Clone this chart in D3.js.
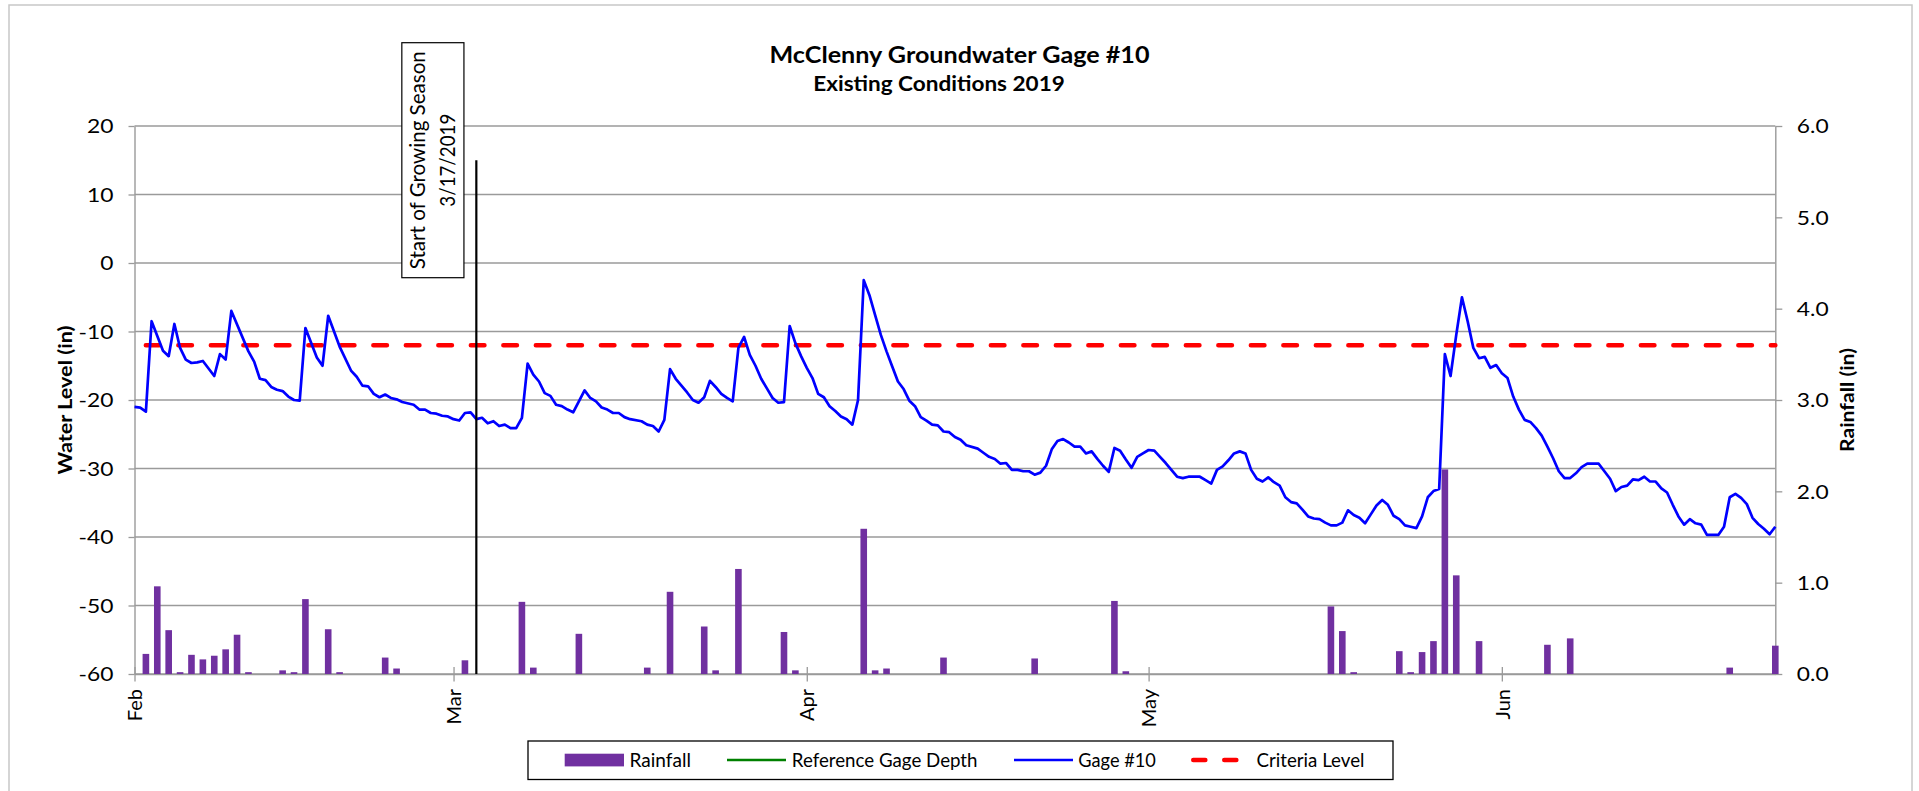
<!DOCTYPE html>
<html>
<head>
<meta charset="utf-8">
<title>McClenny Groundwater Gage #10</title>
<script src="https://cdn.jsdelivr.net/npm/d3@7"></script>
<style>
  html, body { margin: 0; padding: 0; background: #fff; }
  svg { display: block; }
</style>
</head>
<body>
<svg id="chart" width="1919" height="791"></svg>
<script>
// ---- data -------------------------------------------------------------
const titleLines = ["McClenny Groundwater Gage #10", "Existing Conditions 2019"];
const legendLabels = ["Rainfall", "Reference Gage Depth", "Gage #10", "Criteria Level"];

const xDomain = ["2019-02-01", "2019-06-25"];
const monthTicks = ["2019-02-01", "2019-03-01", "2019-04-01", "2019-05-01", "2019-06-01"];
const levelTicks = [-60, -50, -40, -30, -20, -10, 0, 10, 20];
const rainTicks = [0, 1, 2, 3, 4, 5, 6];

// daily rainfall (in)
const rainDates = ["02-02","02-03","02-04","02-05","02-06","02-07","02-08","02-09","02-10","02-11",
  "02-14","02-15","02-16","02-18","02-19","02-23","02-24","03-02","03-07","03-08","03-12","03-18",
  "03-20","03-23","03-24","03-26","03-30","03-31","04-06","04-07","04-08","04-13","04-21","04-28",
  "04-29","05-17","05-18","05-19","05-23","05-24","05-25","05-26","05-27","05-28","05-30","06-05",
  "06-07","06-21","06-25"];
const rainInches = [0.22,0.96,0.48,0.02,0.21,0.16,0.20,0.27,0.43,0.02,
  0.04,0.02,0.82,0.49,0.02,0.18,0.06,0.15,0.79,0.07,0.44,0.07,
  0.90,0.52,0.04,1.15,0.46,0.04,1.59,0.04,0.06,0.18,0.17,0.80,
  0.03,0.74,0.47,0.02,0.25,0.02,0.24,0.36,2.24,1.08,0.36,0.32,
  0.39,0.07,0.31];

// Gage #10 water level (in), "MM-DD HH" reading times
const gage10 = [
 ["02-01 00",-21.0],["02-01 12",-21.1],["02-02 00",-21.7],["02-02 12",-8.5],["02-03 12",-12.8],["02-04 00",-13.6],["02-04 12",-8.9],["02-05 00",-12.4],
 ["02-05 12",-14.1],["02-06 00",-14.6],["02-06 12",-14.5],["02-07 00",-14.3],["02-08 00",-16.5],["02-08 12",-13.3],["02-09 00",-14.1],["02-09 12",-7.0],
 ["02-11 00",-12.9],["02-11 12",-14.4],["02-12 00",-16.9],["02-12 12",-17.1],["02-13 00",-18.1],["02-13 12",-18.5],["02-14 00",-18.7],["02-14 12",-19.5],
 ["02-15 00",-20.0],["02-15 12",-20.1],["02-16 00",-9.5],["02-17 00",-13.8],["02-17 12",-15.0],["02-18 00",-7.7],["02-19 00",-12.2],["02-20 00",-15.7],
 ["02-20 12",-16.6],["02-21 00",-17.9],["02-21 12",-18.0],["02-22 00",-19.1],["02-22 12",-19.6],["02-23 00",-19.2],["02-23 12",-19.7],["02-24 00",-19.9],
 ["02-24 12",-20.3],["02-25 12",-20.7],["02-26 00",-21.4],["02-26 12",-21.4],["02-27 00",-21.9],["02-27 12",-22.0],["02-28 00",-22.3],["02-28 12",-22.4],
 ["03-01 00",-22.8],["03-01 12",-23.0],["03-02 00",-21.9],["03-02 12",-21.8],["03-03 00",-22.8],["03-03 12",-22.6],["03-04 00",-23.4],["03-04 12",-23.1],
 ["03-05 00",-23.8],["03-05 12",-23.6],["03-06 00",-24.1],["03-06 12",-24.1],["03-07 00",-22.6],["03-07 12",-14.7],["03-08 00",-16.3],["03-08 12",-17.3],
 ["03-09 00",-19.0],["03-09 12",-19.4],["03-10 00",-20.7],["03-10 12",-20.9],["03-11 00",-21.4],["03-11 12",-21.8],["03-12 12",-18.6],["03-13 00",-19.7],
 ["03-13 12",-20.2],["03-14 00",-21.1],["03-14 12",-21.4],["03-15 00",-21.9],["03-15 12",-21.9],["03-16 00",-22.5],["03-16 12",-22.8],["03-17 12",-23.1],
 ["03-18 00",-23.6],["03-18 12",-23.8],["03-19 00",-24.6],["03-19 12",-22.9],["03-20 00",-15.5],["03-20 12",-16.9],["03-21 00",-17.9],["03-21 12",-18.9],
 ["03-22 00",-20.0],["03-22 12",-20.4],["03-23 00",-19.6],["03-23 12",-17.2],["03-24 00",-18.1],["03-24 12",-19.1],["03-25 00",-19.7],["03-25 12",-20.2],
 ["03-26 00",-12.4],["03-26 12",-10.8],["03-27 00",-13.4],["03-27 12",-15.0],["03-28 00",-16.9],["03-28 12",-18.3],["03-29 00",-19.7],["03-29 12",-20.4],
 ["03-30 00",-20.3],["03-30 12",-9.2],["03-31 00",-11.7],["03-31 12",-13.6],["04-01 00",-15.3],["04-01 12",-16.8],["04-02 00",-19.1],["04-02 12",-19.6],
 ["04-03 00",-20.9],["04-03 12",-21.6],["04-04 00",-22.4],["04-04 12",-22.8],["04-05 00",-23.6],["04-05 12",-20.0],["04-06 00",-2.5],["04-06 12",-4.7],
 ["04-07 00",-7.6],["04-07 12",-10.5],["04-08 00",-12.9],["04-08 12",-15.1],["04-09 00",-17.3],["04-09 12",-18.4],["04-10 00",-20.1],["04-10 12",-20.9],
 ["04-11 00",-22.5],["04-11 12",-23.0],["04-12 00",-23.6],["04-12 12",-23.7],["04-13 00",-24.6],["04-13 12",-24.7],["04-14 00",-25.4],["04-14 12",-25.8],
 ["04-15 00",-26.6],["04-16 00",-27.1],["04-16 12",-27.7],["04-17 00",-28.3],["04-17 12",-28.6],["04-18 00",-29.3],["04-18 12",-29.2],["04-19 00",-30.2],
 ["04-19 12",-30.2],["04-20 00",-30.4],["04-20 12",-30.4],["04-21 00",-30.9],["04-21 12",-30.6],["04-22 00",-29.6],["04-22 12",-27.2],["04-23 00",-26.0],
 ["04-23 12",-25.7],["04-24 00",-26.2],["04-24 12",-26.8],["04-25 00",-26.8],["04-25 12",-27.8],["04-26 00",-27.5],["04-26 12",-28.6],["04-27 00",-29.6],
 ["04-27 12",-30.5],["04-28 00",-27.0],["04-28 12",-27.4],["04-29 00",-28.7],["04-29 12",-29.9],["04-30 00",-28.3],["04-30 12",-27.8],["05-01 00",-27.3],
 ["05-01 12",-27.4],["05-02 00",-28.3],["05-02 12",-29.2],["05-03 00",-30.2],["05-03 12",-31.2],["05-04 00",-31.4],["05-04 12",-31.2],["05-05 00",-31.2],
 ["05-05 12",-31.2],["05-06 00",-31.7],["05-06 12",-32.2],["05-07 00",-30.2],["05-07 12",-29.7],["05-08 00",-28.8],["05-08 12",-27.8],["05-09 00",-27.5],
 ["05-09 12",-27.8],["05-10 00",-30.2],["05-10 12",-31.5],["05-11 00",-31.9],["05-11 12",-31.3],["05-12 00",-32.0],["05-12 12",-32.5],["05-13 00",-34.2],
 ["05-13 12",-34.9],["05-14 00",-35.1],["05-14 12",-36.0],["05-15 00",-37.0],["05-15 12",-37.3],["05-16 00",-37.4],["05-16 12",-37.9],["05-17 00",-38.3],
 ["05-17 12",-38.3],["05-18 00",-37.9],["05-18 12",-36.1],["05-19 00",-36.8],["05-19 12",-37.2],["05-20 00",-38.0],["05-20 12",-36.7],["05-21 00",-35.4],
 ["05-21 12",-34.6],["05-22 00",-35.3],["05-22 12",-36.9],["05-23 00",-37.4],["05-23 12",-38.3],["05-24 00",-38.5],["05-24 12",-38.7],["05-25 00",-37.0],
 ["05-25 12",-34.2],["05-26 00",-33.3],["05-26 12",-33.0],["05-27 00",-13.3],["05-27 12",-16.5],["05-28 00",-10.5],["05-28 12",-5.0],["05-29 00",-8.5],
 ["05-29 12",-12.4],["05-30 00",-13.9],["05-30 12",-13.7],["05-31 00",-15.3],["05-31 12",-14.9],["06-01 00",-16.1],["06-01 12",-16.8],["06-02 00",-19.5],
 ["06-02 12",-21.4],["06-03 00",-22.9],["06-03 12",-23.2],["06-04 00",-24.1],["06-04 12",-25.2],["06-05 00",-26.8],["06-05 12",-28.5],["06-06 00",-30.4],
 ["06-06 12",-31.4],["06-07 00",-31.4],["06-07 12",-30.7],["06-08 00",-29.8],["06-08 12",-29.3],["06-09 00",-29.3],["06-09 12",-29.3],["06-10 00",-30.4],
 ["06-10 12",-31.5],["06-11 00",-33.3],["06-11 12",-32.7],["06-12 00",-32.5],["06-12 12",-31.6],["06-13 00",-31.7],["06-13 12",-31.2],["06-14 00",-31.9],
 ["06-14 12",-31.9],["06-15 00",-32.9],["06-15 12",-33.5],["06-16 00",-35.3],["06-16 12",-37.0],["06-17 00",-38.2],["06-17 12",-37.4],["06-18 00",-38.0],
 ["06-18 12",-38.2],["06-19 00",-39.7],["06-19 12",-39.7],["06-20 00",-39.7],["06-20 12",-38.5],["06-21 00",-34.2],["06-21 12",-33.7],["06-22 00",-34.3],
 ["06-22 12",-35.2],["06-23 00",-37.2],["06-23 12",-38.1],["06-24 00",-38.8],["06-24 12",-39.6],["06-25 00",-38.5]
];

const criteriaLevel = -12;
const criteriaSpan = ["2019-02-02", "2019-06-25"];

const growingSeasonDate = "2019-03-03";
const growingSeasonTop = 15;
const growingSeasonLabel = ["Start of Growing Season", "3/17/2019"];

// ---- setup ------------------------------------------------------------
const FONT = "Lato, 'Open Sans', sans-serif";
const GRID = "#9a9a9a";
const plot = { left: 134.5, right: 1775.3, top: 126, bottom: 674 };

const parseDay = d3.timeParse("%Y-%m-%d");
const parseReading = d3.timeParse("%Y-%m-%d %H");

const rain = rainDates.map((d, i) => ({ t: parseDay("2019-" + d), v: rainInches[i] }));
const gage = gage10.map(([s, v]) => ({ t: parseReading("2019-" + s), v }));

const x = d3.scaleTime().domain(xDomain.map(parseDay)).range([plot.left, plot.right]);
const yL = d3.scaleLinear().domain([-60, 20]).range([plot.bottom, plot.top]);
const yR = d3.scaleLinear().domain([0, 6]).range([plot.bottom, plot.top]);

const svg = d3.select("#chart").attr("font-family", FONT);

// stretch text horizontally to the chart's wide lettering
function widen(sel, k) {
  sel.each(function () {
    const len = this.getComputedTextLength();
    this.setAttribute("textLength", (len * k).toFixed(1));
    this.setAttribute("lengthAdjust", "spacingAndGlyphs");
  });
}
function fitTo(sel, w) {
  sel.attr("textLength", w).attr("lengthAdjust", "spacingAndGlyphs");
}

// outer frame
svg.append("rect")
  .attr("x", 9).attr("y", 5).attr("width", 1903).attr("height", 800)
  .attr("fill", "#fff").attr("stroke", "#c8c8c8").attr("stroke-width", 1.5);

// title
const title = svg.append("g").attr("font-weight", "bold").attr("fill", "#000");
title.append("text").attr("x", 959.5).attr("y", 62.5).attr("text-anchor", "middle")
  .attr("font-size", 23).text(titleLines[0]).call(fitTo, 380);
title.append("text").attr("x", 939).attr("y", 90.7).attr("text-anchor", "middle")
  .attr("font-size", 20.5).text(titleLines[1]).call(fitTo, 251.6);

// horizontal gridlines
svg.append("g").selectAll("line").data(levelTicks).join("line")
  .attr("x1", plot.left).attr("x2", plot.right)
  .attr("y1", d => yL(d)).attr("y2", d => yL(d))
  .attr("stroke", GRID).attr("stroke-width", 1.4);

// left axis
const gL = svg.append("g").attr("transform", `translate(${plot.left},0)`)
  .call(d3.axisLeft(yL).tickValues(levelTicks).tickFormat(d => String(d))
    .tickSize(6).tickSizeOuter(0).tickPadding(15));
// right axis
const gR = svg.append("g").attr("transform", `translate(${plot.right},0)`)
  .call(d3.axisRight(yR).tickValues(rainTicks).tickFormat(d3.format(".1f"))
    .tickSize(7).tickSizeOuter(0).tickPadding(14.5));
// bottom axis
const gB = svg.append("g").attr("transform", `translate(0,${plot.bottom})`)
  .call(d3.axisBottom(x).tickValues(monthTicks.map(parseDay)).tickFormat(d3.timeFormat("%b"))
    .tickSizeOuter(0));
gB.selectAll(".tick line").attr("y1", -7).attr("y2", 7.5);
gB.selectAll(".tick text")
  .attr("transform", "rotate(-90)").attr("text-anchor", "end")
  .attr("x", -15).attr("y", 0).attr("dy", "0.36em");

[gL, gR, gB].forEach(g => {
  g.attr("font-family", FONT).attr("font-size", 19);
  g.select(".domain").attr("stroke", GRID).attr("stroke-width", 1.4);
  g.selectAll(".tick line").attr("stroke", GRID).attr("stroke-width", 1.3);
  g.selectAll(".tick text").attr("fill", "#000");
});
gL.selectAll(".tick text").attr("dy", "0.36em").call(widen, 1.2);
gR.selectAll(".tick text").attr("dy", "0.36em").call(widen, 1.2);
gB.selectAll(".tick text").attr("font-size", 20);

// axis titles
svg.append("text").attr("transform", `translate(72.3,${(plot.top + plot.bottom) / 2}) rotate(-90)`)
  .attr("text-anchor", "middle").attr("font-weight", "bold").attr("font-size", 19.5)
  .text("Water Level (in)").call(fitTo, 149);
svg.append("text").attr("transform", `translate(1854,${(plot.top + plot.bottom) / 2}) rotate(-90)`)
  .attr("text-anchor", "middle").attr("font-weight", "bold").attr("font-size", 19.5)
  .text("Rainfall (in)").call(fitTo, 104);

// rainfall bars
const barW = 6.6;
svg.append("g").selectAll("rect").data(rain).join("rect")
  .attr("x", d => x(d.t) - barW / 2).attr("width", barW)
  .attr("y", d => yR(d.v)).attr("height", d => yR(0) - yR(d.v))
  .attr("fill", "#7030a0");

// criteria level
const criteria = criteriaSpan.map(d => ({ t: parseDay(d), v: criteriaLevel }));
const lineGen = d3.line().x(d => x(d.t)).y(d => yL(d.v));
svg.append("path").datum(criteria).attr("d", lineGen)
  .attr("fill", "none").attr("stroke", "#ff0000").attr("stroke-width", 4.6)
  .attr("stroke-dasharray", "13.5 19").attr("stroke-linecap", "round");

// Gage #10
svg.append("path").datum(gage).attr("d", lineGen)
  .attr("fill", "none").attr("stroke", "#0000ff").attr("stroke-width", 2.7)
  .attr("stroke-linejoin", "round");

// growing season marker
const mx = x(parseDay(growingSeasonDate));
svg.append("line").attr("x1", mx).attr("x2", mx)
  .attr("y1", yL(growingSeasonTop)).attr("y2", yL(-60))
  .attr("stroke", "#000").attr("stroke-width", 2.2);
const note = svg.append("g");
note.append("rect").attr("x", mx - 74.5).attr("y", 42.7).attr("width", 62.1).attr("height", 235)
  .attr("fill", "#fff").attr("stroke", "#000").attr("stroke-width", 1.2);
const noteCy = 42.7 + 235 / 2;
note.append("text").attr("transform", `translate(${mx - 51},${noteCy}) rotate(-90)`)
  .attr("text-anchor", "middle").attr("font-size", 21).text(growingSeasonLabel[0]).call(fitTo, 218);
note.append("text").attr("transform", `translate(${mx - 21.5},${noteCy}) rotate(-90)`)
  .attr("text-anchor", "middle").attr("font-size", 21).text(growingSeasonLabel[1]).call(fitTo, 93);

// legend
const lg = svg.append("g").attr("font-size", 18.5);
lg.append("rect").attr("x", 528).attr("y", 741).attr("width", 865).attr("height", 38.5)
  .attr("fill", "#fff").attr("stroke", "#000").attr("stroke-width", 1.3);
const ly = 760;
lg.append("rect").attr("x", 564.7).attr("y", ly - 6.3).attr("width", 59.3).attr("height", 12.7).attr("fill", "#7030a0");
lg.append("line").attr("x1", 727).attr("x2", 786).attr("y1", ly).attr("y2", ly)
  .attr("stroke", "#008000").attr("stroke-width", 2.7);
lg.append("line").attr("x1", 1014).attr("x2", 1073).attr("y1", ly).attr("y2", ly)
  .attr("stroke", "#0000ff").attr("stroke-width", 2.7);
lg.append("line").attr("x1", 1193.3).attr("x2", 1240).attr("y1", ly).attr("y2", ly)
  .attr("stroke", "#ff0000").attr("stroke-width", 4.6)
  .attr("stroke-dasharray", "12 19").attr("stroke-linecap", "round");
const legendX = [629.5, 791.8, 1078.3, 1256.5];
const legendW = [61.5, 185.7, 77.5, 108];
legendLabels.forEach((t, i) => {
  lg.append("text").attr("x", legendX[i]).attr("y", 766.7).attr("fill", "#000")
    .text(t).call(fitTo, legendW[i]);
});
</script>
</body>
</html>
